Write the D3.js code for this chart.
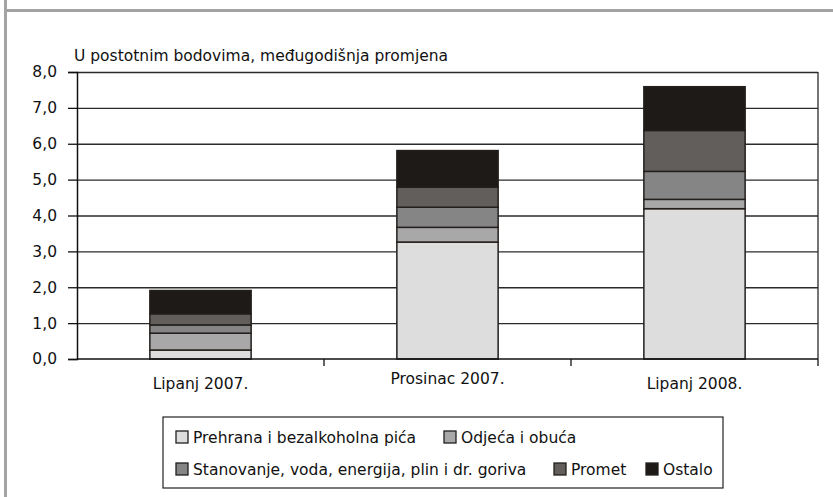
<!DOCTYPE html>
<html>
<head>
<meta charset="utf-8">
<script src="https://cdn.jsdelivr.net/npm/d3@7"></script>
<style>
  body { margin: 0; background: #fff; }
  text { font-family: "DejaVu Sans", sans-serif; fill: #111; }
</style>
</head>
<body>
<div id="canvas"></div>
<script>
// data
const categories = ["Lipanj 2007.", "Prosinac 2007.", "Lipanj 2008."];
const seriesNames = [
  "Prehrana i bezalkoholna pića",
  "Odjeća i obuća",
  "Stanovanje, voda, energija, plin i dr. goriva",
  "Promet",
  "Ostalo"
];
const prehrana = [0.25, 3.26, 4.19];
const odjeca = [0.47, 0.41, 0.26];
const stanovanje = [0.23, 0.56, 0.78];
const promet = [0.31, 0.56, 1.14];
const ostalo = [0.65, 1.02, 1.22];
const yTicks = [0, 1, 2, 3, 4, 5, 6, 7, 8];
const yLabel = "U postotnim bodovima, međugodišnja promjena";

const colors = ["#dddddd", "#a8a8a8", "#858585", "#625e5b", "#1e1a17"];

const width = 833;
const height = 497;
const margin = { top: 72, left: 77, bottom: 138, right: 15 };
const iwidth = width - margin.left - margin.right;
const iheight = height - margin.top - margin.bottom;
const fs = "15.5px";

const table = categories.map((c, i) => ({
  cat: c,
  [seriesNames[0]]: prehrana[i],
  [seriesNames[1]]: odjeca[i],
  [seriesNames[2]]: stanovanje[i],
  [seriesNames[3]]: promet[i],
  [seriesNames[4]]: ostalo[i]
}));

const svg = d3.select("#canvas").append("svg")
  .attr("width", width)
  .attr("height", height);

// frame bits
svg.append("rect").attr("x", 4).attr("y", 0).attr("width", 3).attr("height", height).attr("fill", "#a3a3a3");
svg.append("rect").attr("x", 4).attr("y", 9).attr("width", width - 4).attr("height", 3).attr("fill", "#a3a3a3");

const g = svg.append("g").attr("transform", `translate(${margin.left}, ${margin.top})`);

const x = d3.scaleBand().domain(categories).range([0, iwidth])
  .paddingInner(0.59).paddingOuter(0.295);
const y = d3.scaleLinear().domain([0, 8]).range([iheight, 0]);

// grid
g.append("g")
  .call(d3.axisLeft(y).tickValues(yTicks.slice(1)).tickSize(-iwidth).tickFormat(""))
  .call((s) => s.select(".domain").remove())
  .selectAll("line").attr("stroke", "#2a2a2a").attr("stroke-width", 1.3);

// plot border right
g.append("line").attr("x1", iwidth).attr("x2", iwidth).attr("y1", 0).attr("y2", iheight)
  .attr("stroke", "#2a2a2a").attr("stroke-width", 1.3);

const stack = d3.stack().keys(seriesNames);
const layers = stack(table);

g.selectAll("g.layer").data(layers).enter()
  .append("g").attr("class", "layer")
  .attr("fill", (d, i) => colors[i])
  .selectAll("rect").data((d) => d).enter()
  .append("rect")
  .attr("x", (d) => x(d.data.cat))
  .attr("y", (d) => y(d[1]))
  .attr("width", x.bandwidth())
  .attr("height", (d) => y(d[0]) - y(d[1]))
  .attr("stroke", "#231f1c")
  .attr("stroke-width", 1.5);

// y axis
g.append("g")
  .call(d3.axisLeft(y).tickValues(yTicks).tickSize(9).tickPadding(11)
    .tickFormat((d) => d.toFixed(1).replace(".", ",")))
  .call((s) => s.select(".domain").attr("stroke", "#111").attr("stroke-width", 1.5))
  .call((s) => s.selectAll("line").attr("stroke", "#111").attr("stroke-width", 1.3))
  .call((s) => s.selectAll("text").style("font-size", fs).attr("fill", "#111"));

// x axis with labels
const xa = g.append("g").attr("transform", `translate(0, ${iheight})`)
  .call(d3.axisBottom(x).tickSize(0).tickPadding(22));
xa.select(".domain").attr("stroke", "#111").attr("stroke-width", 1.5).attr("d", `M0,0H${iwidth}`);
xa.selectAll("text").style("font-size", fs).attr("fill", "#111")
  .attr("dy", (d, i) => (i === 1 ? "0.2em" : "0.5em"));

// category boundary ticks
const bounds = categories.map((c, i) => (i + 1) * x.step());
xa.selectAll("line.bound").data(bounds).enter()
  .append("line").attr("class", "bound")
  .attr("x1", (d) => d).attr("x2", (d) => d)
  .attr("y1", 0).attr("y2", 7)
  .attr("stroke", "#111").attr("stroke-width", 1.3);

// y label
g.append("text")
  .attr("x", -3)
  .attr("y", -11)
  .style("font-size", fs)
  .text(yLabel);

// legend
const legend = svg.append("g");
legend.append("rect")
  .attr("x", 163).attr("y", 417).attr("width", 560).attr("height", 71)
  .attr("fill", "#fff").attr("stroke", "#222").attr("stroke-width", 1.2);

const legendPos = [[176, 437], [444, 437], [176, 469], [554, 469], [646, 469]];
const items = legend.selectAll("g.item").data(seriesNames).enter()
  .append("g").attr("class", "item")
  .attr("transform", (d, i) => `translate(${legendPos[i][0]}, ${legendPos[i][1]})`);
items.append("rect")
  .attr("x", 0).attr("y", -6).attr("width", 12).attr("height", 12)
  .attr("fill", (d, i) => colors[i])
  .attr("stroke", "#231f1c").attr("stroke-width", 1.3);
items.append("text")
  .attr("x", 17).attr("y", 0).attr("dy", "0.36em")
  .style("font-size", fs)
  .text((d) => d);
</script>
</body>
</html>
